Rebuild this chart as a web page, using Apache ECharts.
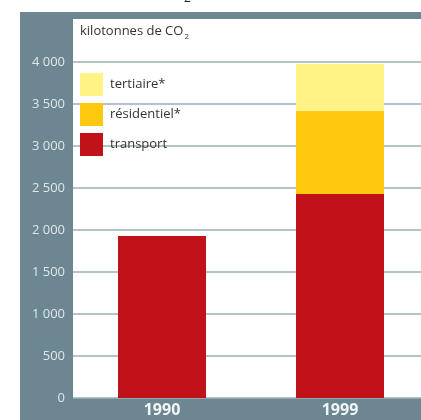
<!DOCTYPE html>
<html>
<head>
<meta charset="utf-8">
<script src="https://cdn.jsdelivr.net/npm/echarts@6/dist/echarts.min.js"></script>
<style>
  html, body { margin: 0; padding: 0; background: #ffffff; overflow: hidden; }
  #chart { width: 430px; height: 420px; }
</style>
</head>
<body>
<div id="chart"></div>
<script>
// Emissions by sector, kilotonnes of CO2
const years = ['1990', '1999'];
const transport = [1930, 2430];
const residentiel = [null, 990];
const tertiaire = [null, 555];
const yTickLabels = ['0', '500', '1 000', '1 500', '2 000', '2 500', '3 000', '3 500', '4 000'];

const FONT = '"Open Sans", "Liberation Sans", sans-serif';
const SLATE = '#6d8792';

const chart = echarts.init(document.getElementById('chart'), null, { renderer: 'canvas' });

chart.setOption({
  animation: false,
  backgroundColor: '#ffffff',
  textStyle: { fontFamily: FONT },
  graphic: [
    { type: 'rect', z: -10, shape: { x: 20, y: 12, width: 410, height: 408 }, style: { fill: SLATE } },
    { type: 'rect', z: -9, shape: { x: 73, y: 19, width: 357, height: 379 }, style: { fill: '#ffffff' } },
    {
      type: 'text', left: 80, top: 25, z: 10,
      style: {
        text: '{a|kilotonnes de CO}{s|2}',
        rich: {
          a: { fontFamily: FONT, fontSize: 13, fill: '#333333' },
          s: { fontFamily: FONT, fontSize: 8, fill: '#333333', padding: [10, 0, 0, 1] }
        }
      }
    },
    {
      type: 'text', left: 184, top: -7, z: 10,
      style: { text: '2', fontFamily: FONT, fontSize: 12, fill: '#222222' }
    }
  ],
  legend: {
    orient: 'vertical',
    left: 80,
    top: 73,
    padding: 0,
    itemWidth: 23,
    itemHeight: 23,
    itemGap: 7,
    icon: 'rect',
    data: ['tertiaire*', 'résidentiel*', 'transport'],
    textStyle: { fontFamily: FONT, fontSize: 13, color: '#333333', padding: [0, 0, 0, 2] }
  },
  grid: { left: 73, top: 62, right: 1, bottom: 22, containLabel: false },
  xAxis: {
    type: 'category',
    data: years,
    axisLine: { show: false },
    axisTick: { show: false },
    axisLabel: { color: '#f2f5f6', fontFamily: FONT, fontSize: 16, fontWeight: 'bold', margin: 4 }
  },
  yAxis: {
    type: 'value',
    min: 0,
    max: 4000,
    interval: 500,
    axisLine: { show: false },
    axisTick: { show: false },
    axisLabel: {
      color: '#dfe6ea', fontFamily: FONT, fontSize: 13, margin: 8,
      formatter: v => yTickLabels[Math.round(v / 500)]
    },
    splitLine: { lineStyle: { color: '#9bafb8', width: 1.5 } }
  },
  series: [
    { name: 'transport', type: 'bar', stack: 'co2', data: transport, barWidth: 88, itemStyle: { color: '#c1121a' } },
    { name: 'résidentiel*', type: 'bar', stack: 'co2', data: residentiel, barWidth: 88, itemStyle: { color: '#fec90e' } },
    { name: 'tertiaire*', type: 'bar', stack: 'co2', data: tertiaire, barWidth: 88, itemStyle: { color: '#fff385' } }
  ]
});
</script>
</body>
</html>
